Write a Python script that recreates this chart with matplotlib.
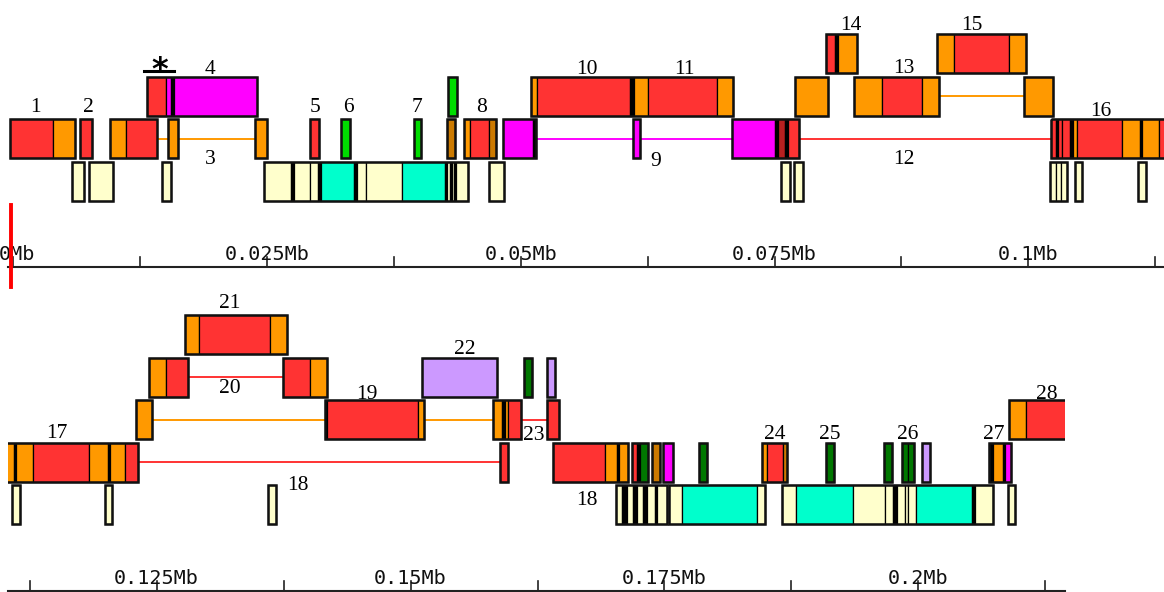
import matplotlib
matplotlib.use('Agg')
import matplotlib.pyplot as plt
from matplotlib.patches import Rectangle

# colour codes used in the block lists
COLORS = {
    'R': '#FF3333',  # red exon
    'O': '#FF9900',  # orange exon / UTR
    'K': '#000000',  # black divider
    'M': '#FF00FF',  # magenta
    'G': '#00DD00',  # bright green
    'g': '#007700',  # dark green
    'P': '#FFFFCC',  # pale yellow
    'C': '#00FFCC',  # cyan
    'L': '#CC99FF',  # lavender
    'D': '#CC7A00',  # brownish orange
    'r': '#B82020',  # dark red
}

# features per track, each feature = list of (start_kb, end_kb, colour code)
track_m1 = [
    [(127.79, 129.17, 'O'), (129.17, 136.16, 'R'), (136.16, 137.80, 'O')],
]

track_0 = [
    [(80.04, 80.96, 'R'), (80.96, 81.25, 'K'), (81.25, 83.09, 'O')],
    [(91.03, 92.67, 'O'), (92.67, 98.09, 'R'), (98.09, 99.74, 'O')],
    [(124.27, 125.89, 'O'), (125.89, 128.11, 'R')],
    [(137.47, 140.10, 'R'), (140.10, 141.74, 'O')],
    [(151.10, 158.48, 'L')],
    [(161.20, 161.99, 'g')],
    [(163.40, 164.22, 'L')],
]

track_1 = [
    [(13.18, 15.08, 'R'), (15.08, 15.54, 'M'), (15.54, 15.86, 'K'), (15.86, 24.07, 'M')],
    [(42.88, 43.76, 'G')],
    [(50.99, 51.61, 'O'), (51.61, 60.77, 'R'), (60.77, 61.16, 'K'), (61.16, 62.54, 'O'),
     (62.54, 69.31, 'R'), (69.31, 70.94, 'O')],
    [(77.02, 80.30, 'O')],
    [(82.86, 85.55, 'O'), (85.55, 89.50, 'R'), (89.50, 91.23, 'O')],
    [(99.57, 102.39, 'O')],
    [(122.96, 124.57, 'O')],
    [(141.57, 141.80, 'K'), (141.80, 150.76, 'R'), (150.76, 151.32, 'O')],
    [(158.15, 158.97, 'O'), (158.97, 159.30, 'K'), (159.30, 159.59, 'O'), (159.59, 160.87, 'R')],
    [(163.40, 164.65, 'R')],
    [(208.96, 210.60, 'O'), (210.60, 216.00, 'R')],
]

track_2 = [
    [(-0.29, 3.98, 'R'), (3.98, 6.12, 'O')],
    [(6.61, 7.76, 'R')],
    [(9.56, 11.14, 'O'), (11.14, 14.19, 'R')],
    [(15.24, 16.29, 'O')],
    [(23.84, 24.99, 'O')],
    [(29.26, 30.14, 'R')],
    [(32.31, 33.20, 'G')],
    [(39.50, 40.19, 'G')],
    [(42.72, 43.58, 'D')],
    [(44.45, 45.04, 'O'), (45.04, 46.86, 'R'), (46.86, 47.54, 'D')],
    [(48.23, 51.20, 'M'), (51.20, 51.51, 'K')],
    [(61.03, 61.75, 'M')],
    [(70.78, 75.05, 'M'), (75.05, 75.37, 'K'), (75.37, 76.03, 'r'), (76.03, 76.36, 'K'),
     (76.36, 77.44, 'R')],
    [(102.20, 102.69, 'R'), (102.69, 102.95, 'K'), (102.95, 103.33, 'R'), (103.33, 104.10, 'R'),
     (104.10, 104.42, 'K'), (104.42, 104.76, 'O'), (104.76, 109.19, 'R'), (109.19, 110.95, 'O'),
     (110.95, 111.15, 'K'), (111.15, 112.82, 'O'), (112.82, 118.33, 'R'), (118.33, 120.21, 'O'),
     (120.21, 120.40, 'K'), (120.40, 121.93, 'O'), (121.93, 123.19, 'R')],
    [(158.81, 159.62, 'R')],
    [(164.06, 169.15, 'R'), (169.15, 170.33, 'O'), (170.33, 170.53, 'K'), (170.53, 171.44, 'O')],
    [(171.78, 172.30, 'R'), (172.30, 172.59, 'K'), (172.59, 173.41, 'g')],
    [(173.74, 174.56, 'D')],
    [(174.89, 175.87, 'M')],
    [(178.40, 179.16, 'g')],
    [(184.64, 185.10, 'O'), (185.10, 186.67, 'R'), (186.67, 187.10, 'D')],
    [(190.91, 191.70, 'g')],
    [(196.65, 197.44, 'g')],
    [(198.42, 198.98, 'g'), (198.98, 199.60, 'g')],
    [(200.39, 201.15, 'L')],
    [(206.99, 207.35, 'K'), (207.35, 208.31, 'O'), (208.31, 208.49, 'K'), (208.49, 209.10, 'M')],
]

track_3 = [
    [(5.85, 7.00, 'P')],
    [(7.49, 9.89, 'P')],
    [(14.71, 15.54, 'P')],
    [(24.76, 27.39, 'P'), (27.39, 27.71, 'K'), (27.71, 29.30, 'P'), (29.30, 30.01, 'P'),
     (30.01, 30.34, 'K'), (30.34, 33.62, 'C'), (33.62, 33.88, 'K'), (33.88, 34.80, 'P'),
     (34.80, 38.27, 'P'), (38.27, 42.55, 'C'), (42.55, 42.72, 'K'), (42.72, 43.04, 'P'),
     (43.04, 43.21, 'K'), (43.21, 43.47, 'P'), (43.47, 43.63, 'K'), (43.63, 44.85, 'P')],
    [(46.91, 48.39, 'P')],
    [(75.64, 76.52, 'P')],
    [(76.95, 77.83, 'P')],
    [(102.13, 102.69, 'P'), (102.69, 103.21, 'P'), (103.21, 103.77, 'P')],
    [(104.60, 105.30, 'P')],
    [(110.78, 111.58, 'P')],
    [(119.91, 120.63, 'P')],
    [(135.99, 136.72, 'P')],
    [(170.23, 170.79, 'P'), (170.79, 171.28, 'K'), (171.28, 171.93, 'P'), (171.93, 172.33, 'K'),
     (172.33, 172.92, 'P'), (172.92, 173.25, 'K'), (173.25, 174.07, 'P'), (174.07, 174.24, 'K'),
     (174.24, 175.22, 'P')],
    [(175.48, 176.70, 'P'), (176.70, 184.15, 'C'), (184.15, 184.90, 'P')],
    [(186.55, 187.91, 'P'), (187.91, 193.60, 'C'), (193.60, 196.72, 'P'), (196.72, 197.54, 'P'),
     (197.54, 197.90, 'K'), (197.90, 198.69, 'P'), (198.69, 198.98, 'P'), (198.98, 199.77, 'P'),
     (199.77, 205.26, 'C'), (205.26, 205.58, 'K'), (205.58, 207.32, 'P')],
    [(208.80, 209.52, 'P')],
]

tracks = {-1: track_m1, 0: track_0, 1: track_1, 2: track_2, 3: track_3}

# connecting (intron) lines
intron_track = [2, 2, 2, 1, 0, 1, 1, 1, 2]
intron_start = [14.19, 51.51, 77.44, 91.23, 128.11, 124.57, 151.32, 160.87, 123.19]
intron_end = [23.84, 70.78, 102.20, 99.57, 137.47, 141.57, 158.15, 163.40, 158.81]
intron_kind = ['O', 'M', 'R', 'O', 'R', 'O', 'O', 'R', 'R']

# feature numbers
label_text = ['1', '2', '3', '4', '5', '6', '7', '8', '9', '10', '11', '12', '13', '14', '15',
              '16', '17', '18', '18', '19', '20', '21', '22', '23', '24', '25', '26', '27', '28']
label_kb = [2.27, 7.46, 19.41, 19.36, 29.75, 33.0, 39.76, 46.17, 63.3, 56.5, 66.1, 87.75,
            87.75, 82.5, 94.4, 107.1, 115.15, 138.94, 167.34, 145.68, 132.22, 132.22, 155.36,
            162.15, 185.82, 191.3, 198.95, 207.45, 212.64]
label_track = [2, 2, 2, 1, 2, 2, 2, 2, 2, 1, 1, 2, 1, 0, 0,
               2, 2, 2, 2, 1, 0, -1, 0, 1, 2, 2, 2, 2, 1]
# vertical placement of each number relative to its track top (px)
label_dy = [-13.5, -13.5, 37.5, -9.8, -13.5, -13.5, -13.5, -13.5, 40, -10, -10, 38.5, -10.5,
            -11.5, -11.5, -10, -11.3, 41, 55.5, -8.3, 28.3, -14, -10.5, 32.5, -10.5, -10.5,
            -10.5, -10.5, -8.3]

PX_PER_KB = 10.155
ROW_STEP = 42.5
ROW_H = 39.0

fig = plt.figure(figsize=(11.64, 5.92), dpi=100)
left = 8.3 / 1164
ax_top = fig.add_axes([left, 0.5, (1164 - 8.3) / 1164, 0.5])
ax_bot = fig.add_axes([left, 0.0, (1065 - 8.3) / 1164, 0.5])

# (axes, xlim, y of track 0 top, y of ruler)
panels = [
    (ax_top, (-0.453, 113.35), 34.0, 266.7),
    (ax_bot, (110.39, 214.44), 61.5, 294.7),
]

for ax, (x0, x1), base, axis_y in panels:
    ax.set_xlim(x0, x1)
    ax.set_ylim(296, 0)
    ax.set_axis_off()

    # intron lines
    for t, s, e, k in zip(intron_track, intron_start, intron_end, intron_kind):
        y = base + ROW_STEP * t + ROW_H / 2
        ax.plot([s, e], [y, y], color=COLORS[k], lw=1.4, zorder=2, solid_capstyle='butt')

    # blocks
    for t, feats in tracks.items():
        y = base + ROW_STEP * t
        for segs in feats:
            for s, e, k in segs:
                ax.add_patch(Rectangle((s, y), e - s, ROW_H, facecolor=COLORS[k],
                                       edgecolor='black', linewidth=0.9, zorder=3))
            s0, e0 = segs[0][0], segs[-1][1]
            ax.add_patch(Rectangle((s0, y), e0 - s0, ROW_H, fill=False,
                                   edgecolor='#111111', linewidth=1.8, zorder=4))

    # numbers (only those that fall inside this panel)
    for txt, kb, t, dy in zip(label_text, label_kb, label_track, label_dy):
        if not (x0 + 0.5 <= kb <= x1 - 0.5):
            continue
        ax.text(kb, base + ROW_STEP * t + dy + 7, txt, ha='center', va='baseline',
                fontsize=15.5, family='Liberation Serif', color='black', zorder=5)

    # ruler
    ax.plot([x0, x1], [axis_y, axis_y], color='#222222', lw=1.5, clip_on=False)
    tick = 0.0
    while tick <= x1:
        if tick >= x0:
            ax.plot([tick, tick], [axis_y - 10, axis_y], color='#222222', lw=1.2)
            if tick % 25 == 0:
                lab = '{:g}Mb'.format(tick / 1000)
                if tick == 0:
                    # the first label is pushed against the left edge
                    ax.text(-1.35, axis_y - 7, lab, ha='left', va='baseline',
                            fontsize=14.5, family='DejaVu Sans Mono', color='#111111')
                else:
                    ax.text(tick, axis_y - 7, lab, ha='center', va='baseline',
                            fontsize=14.5, family='DejaVu Sans Mono', color='#111111')
        tick += 12.5

# position marker and the starred region
ax_top.plot([-0.15, -0.15], [205, 287], color='#FF0000', lw=2.8, zorder=6)
ax_top.plot([12.91, 15.86], [70.7, 70.7], color='black', lw=2.2)
ax_top.text(14.49, 79, '*', ha='center', va='baseline', fontsize=23, fontweight='bold',
            family='DejaVu Sans', color='black')

fig.savefig('out.png', dpi=100)
